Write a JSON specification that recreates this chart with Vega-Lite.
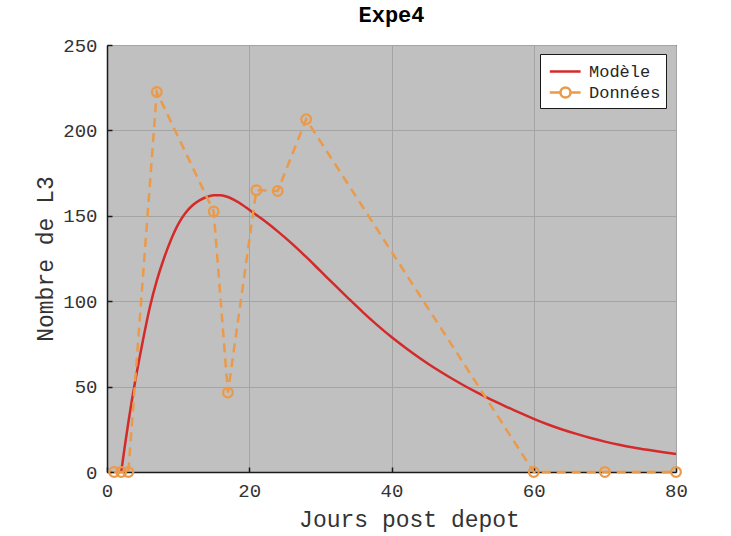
{
  "$schema": "https://vega.github.io/schema/vega-lite/v6.json",
  "width": 569,
  "height": 427,
  "autosize": {"type": "none"},
  "padding": {"left": 107, "top": 45, "right": 55, "bottom": 64},
  "background": "white",
  "title": {"text": "Expe4", "font": "Liberation Mono", "fontSize": 22, "fontWeight": "bold", "color": "black", "offset": 9},
  "datasets": {
    "model": [
      {"jour": 2, "n": 0, "serie": "Modèle"}, {"jour": 2.5, "n": 15, "serie": "Modèle"}, {"jour": 3, "n": 29, "serie": "Modèle"},
      {"jour": 3.5, "n": 42, "serie": "Modèle"}, {"jour": 4, "n": 54, "serie": "Modèle"}, {"jour": 5, "n": 76, "serie": "Modèle"},
      {"jour": 6, "n": 96, "serie": "Modèle"}, {"jour": 7, "n": 112, "serie": "Modèle"}, {"jour": 8, "n": 125, "serie": "Modèle"},
      {"jour": 9, "n": 136, "serie": "Modèle"}, {"jour": 10, "n": 145, "serie": "Modèle"}, {"jour": 11, "n": 151.5, "serie": "Modèle"},
      {"jour": 12, "n": 156, "serie": "Modèle"}, {"jour": 13, "n": 159, "serie": "Modèle"}, {"jour": 14, "n": 161, "serie": "Modèle"},
      {"jour": 15, "n": 162, "serie": "Modèle"}, {"jour": 16, "n": 162, "serie": "Modèle"}, {"jour": 17, "n": 161, "serie": "Modèle"},
      {"jour": 18, "n": 159, "serie": "Modèle"}, {"jour": 19, "n": 156.5, "serie": "Modèle"}, {"jour": 20, "n": 153.5, "serie": "Modèle"},
      {"jour": 22, "n": 147.5, "serie": "Modèle"}, {"jour": 24, "n": 140.9, "serie": "Modèle"}, {"jour": 26, "n": 133.7, "serie": "Modèle"},
      {"jour": 28, "n": 125.9, "serie": "Modèle"}, {"jour": 30, "n": 117.7, "serie": "Modèle"}, {"jour": 32, "n": 109.5, "serie": "Modèle"},
      {"jour": 34, "n": 101.4, "serie": "Modèle"}, {"jour": 36, "n": 93.5, "serie": "Modèle"}, {"jour": 38, "n": 86, "serie": "Modèle"},
      {"jour": 40, "n": 79, "serie": "Modèle"}, {"jour": 42, "n": 72.6, "serie": "Modèle"}, {"jour": 44, "n": 66.6, "serie": "Modèle"},
      {"jour": 46, "n": 61, "serie": "Modèle"}, {"jour": 48, "n": 55.9, "serie": "Modèle"}, {"jour": 50, "n": 51.1, "serie": "Modèle"},
      {"jour": 52, "n": 46.6, "serie": "Modèle"}, {"jour": 54, "n": 42.4, "serie": "Modèle"}, {"jour": 56, "n": 38.5, "serie": "Modèle"},
      {"jour": 58, "n": 34.7, "serie": "Modèle"}, {"jour": 60, "n": 31.1, "serie": "Modèle"}, {"jour": 62, "n": 27.8, "serie": "Modèle"},
      {"jour": 64, "n": 24.9, "serie": "Modèle"}, {"jour": 66, "n": 22.3, "serie": "Modèle"}, {"jour": 68, "n": 19.9, "serie": "Modèle"},
      {"jour": 70, "n": 17.8, "serie": "Modèle"}, {"jour": 72, "n": 16, "serie": "Modèle"}, {"jour": 74, "n": 14.4, "serie": "Modèle"},
      {"jour": 76, "n": 13, "serie": "Modèle"}, {"jour": 78, "n": 11.7, "serie": "Modèle"}, {"jour": 80, "n": 10.5, "serie": "Modèle"}
    ],
    "obs": [
      {"jour": 1, "n": 0, "serie": "Données"}, {"jour": 2, "n": 0, "serie": "Données"}, {"jour": 3, "n": 0, "serie": "Données"},
      {"jour": 7, "n": 222.5, "serie": "Données"}, {"jour": 15, "n": 152.5, "serie": "Données"}, {"jour": 17, "n": 46.5, "serie": "Données"},
      {"jour": 21, "n": 165, "serie": "Données"}, {"jour": 24, "n": 164.5, "serie": "Données"}, {"jour": 28, "n": 206.5, "serie": "Données"},
      {"jour": 60, "n": 0, "serie": "Données"}, {"jour": 70, "n": 0, "serie": "Données"}, {"jour": 80, "n": 0, "serie": "Données"}
    ]
  },
  "encoding": {
    "x": {"field": "jour", "type": "quantitative", "scale": {"domain": [0, 80], "nice": false},
      "axis": {"title": "Jours post depot", "values": [0, 20, 40, 60, 80], "labelPadding": 14, "titlePadding": 8, "titleX": 302}},
    "y": {"field": "n", "type": "quantitative", "scale": {"domain": [0, 250], "nice": false},
      "axis": {"title": "Nombre de L3", "values": [0, 50, 100, 150, 200, 250], "labelPadding": 15, "titlePadding": 5}}
  },
  "layer": [
    {
      "data": {"name": "model"},
      "mark": {"type": "line", "strokeWidth": 2.5, "interpolate": "monotone", "clip": false},
      "encoding": {
        "color": {"field": "serie", "type": "nominal", "scale": {"domain": ["Modèle", "Données"], "range": ["#d42a2a", "#ea9a48"]},
          "legend": {
            "title": null, "orient": "none", "legendX": 433, "legendY": 9,
            "fillColor": "white", "strokeColor": "#1a1a1a", "padding": 5,
            "labelFont": "Liberation Mono", "labelFontSize": 17, "labelColor": "#262626",
            "symbolType": "stroke", "symbolSize": 484, "symbolStrokeWidth": 2.5, "rowPadding": 0, "labelOffset": 19,
            "encode": {"symbols": {"update": {
              "shape": [
                {"test": "datum.value === 'Données'", "value": "M-0.7,0L0.27,0M1.18,0L2.1,0M1.18,0A0.455,0.455 0 1 0 0.27,0A0.455,0.455 0 1 0 1.18,0"},
                {"value": "M-0.7,0L2.1,0"}
              ],
              "fill": {"value": "transparent"}
            }}}
          }}
      }
    },
    {
      "data": {"name": "obs"},
      "mark": {"type": "line", "strokeWidth": 2.5, "strokeDash": [9, 6], "clip": false},
      "encoding": {
        "color": {"field": "serie", "type": "nominal", "scale": {"domain": ["Modèle", "Données"], "range": ["#d42a2a", "#ea9a48"]}}
      }
    },
    {
      "data": {"name": "obs"},
      "mark": {"type": "point", "shape": "circle", "filled": false, "color": "#ea9a48", "size": 95, "strokeWidth": 2.2, "opacity": 1, "clip": false},
      "encoding": {}
    }
  ],
  "config": {
    "view": {"fill": "#c0c0c0", "stroke": "#262626", "strokeWidth": 1},
    "axis": {
      "labelFont": "Liberation Mono", "labelFontSize": 19, "labelColor": "#333333", "labelFlush": false,
      "titleFont": "Liberation Mono", "titleFontSize": 23, "titleFontWeight": "normal", "titleColor": "#333333",
      "domainColor": "#1a1a1a", "domainWidth": 1.5, "tickColor": "#1a1a1a", "tickSize": -5, "tickWidth": 1.5,
      "gridColor": "#a4a4a4", "gridWidth": 1, "gridOpacity": 1
    }
  }
}
